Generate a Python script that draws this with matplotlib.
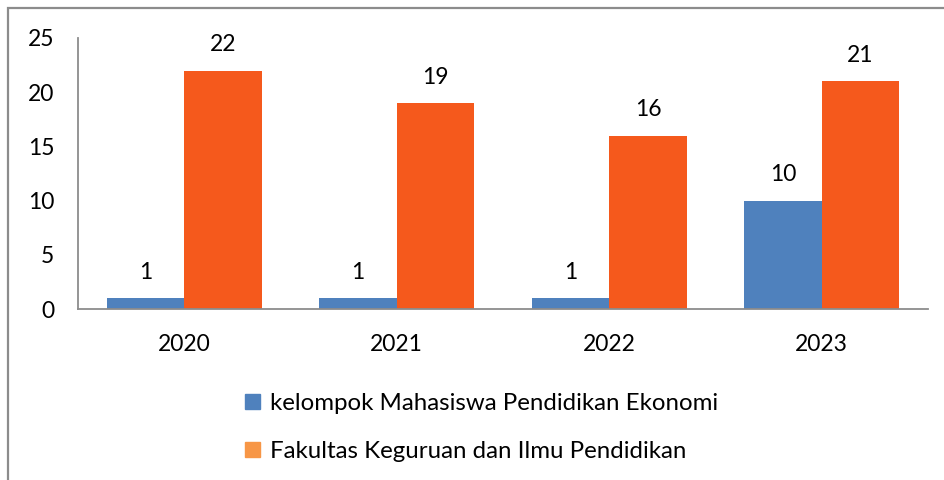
import matplotlib
matplotlib.use("Agg")
import matplotlib.pyplot as plt
from matplotlib.patches import Patch, Rectangle
import numpy as np

years = ["2020", "2021", "2022", "2023"]
ekonomi = [1, 1, 1, 10]
fkip = [22, 19, 16, 21]
series_names = ["kelompok Mahasiswa Pendidikan Ekonomi", "Fakultas Keguruan dan Ilmu Pendidikan"]

plt.rcParams['font.family'] = ['Lato', 'DejaVu Sans']
FS = 16.5
LFS = 17.3

fig = plt.figure(figsize=(9.45, 4.8), dpi=100)
ax = fig.add_axes([78/945, 1-309/480, (928-78)/945, (309-38)/480])

x = np.arange(len(years))
w = 0.365
blue = "#4F81BD"
orange = "#F5591C"
b1 = ax.bar(x - w/2, ekonomi, w, color=blue)
b2 = ax.bar(x + w/2, fkip, w, color=orange)

for bars, vals in ((b1, ekonomi), (b2, fkip)):
    for r, v in zip(bars, vals):
        ax.annotate(str(v), (r.get_x() + r.get_width()/2, r.get_height()),
                    xytext=(0, 11), textcoords="offset points",
                    ha="center", va="bottom", fontsize=FS, color="black")

ax.set_xlim(-0.5, 3.5)
ax.set_ylim(0, 25)
ax.set_yticks([0, 5, 10, 15, 20, 25])
ax.set_xticks(x)
ax.set_xticklabels(years)
ax.tick_params(axis="both", length=0, labelsize=FS, colors="black")
ax.tick_params(axis="y", pad=17)
ax.tick_params(axis="x", pad=18)
for s in ["top", "right"]:
    ax.spines[s].set_visible(False)
for s in ["left", "bottom"]:
    ax.spines[s].set_color("#8C8C8C")
    ax.spines[s].set_linewidth(1.3)

handles = [Patch(color=blue), Patch(color="#F79646")]
fig.legend(handles, series_names, loc="upper left",
           bbox_to_anchor=(233/945, 1-381/480), frameon=False, fontsize=LFS,
           handlelength=0.62, handleheight=0.62, handletextpad=0.4,
           labelspacing=1.12, borderpad=0)

fig.add_artist(Rectangle((8/945, -0.1), 1.2, (480-8)/480 + 0.1,
                         transform=fig.transFigure, fill=False,
                         edgecolor="#8C8C8C", linewidth=1.6))

fig.savefig("out.png", dpi=100)
